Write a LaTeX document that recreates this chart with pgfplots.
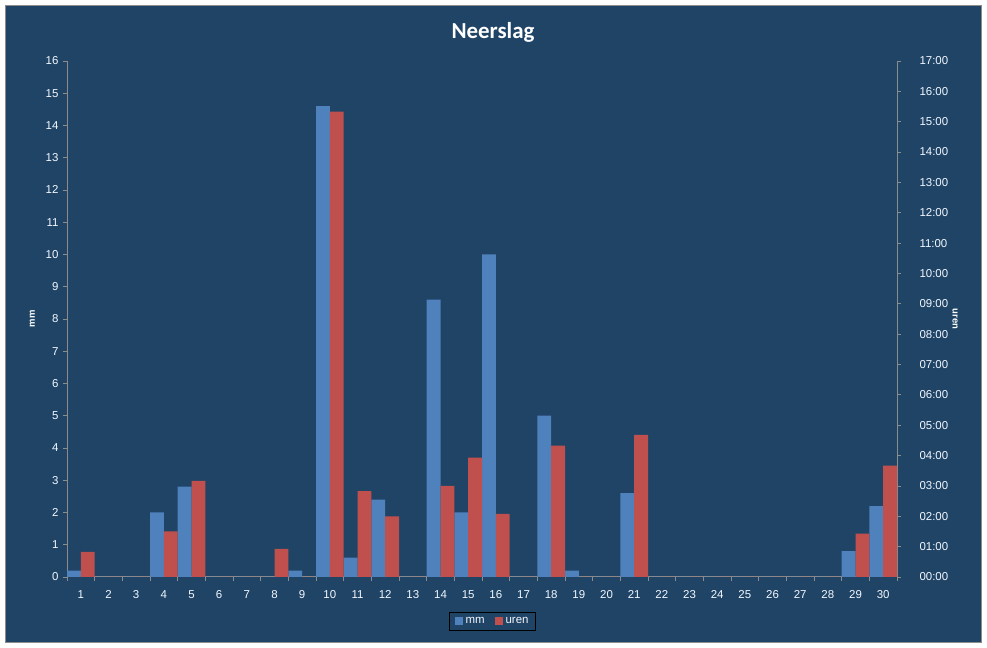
\documentclass[border=0pt]{standalone}
\usepackage{pgfplots}
\pgfplotsset{compat=1.18}
\usepackage{fontspec}
\setmainfont{Liberation Sans}
\newfontfamily\titlefont{Carlito}
\definecolor{bg}{HTML}{1F4466}
\definecolor{mmblue}{HTML}{4F81BD}
\definecolor{urenred}{HTML}{C0504D}
\definecolor{axgray}{HTML}{8C8C8C}
\definecolor{txt}{HTML}{F4F8FF}
\begin{document}
\begin{tikzpicture}[x=1bp,y=1bp]
\useasboundingbox (0,0) rectangle (987,648);
\fill[white] (0,0) rectangle (987,648);
\fill[bg] (5.5,5.5) rectangle (981.5,642.5);
\draw[axgray, line width=1bp] (5.5,5.5) rectangle (981.5,642.5);
\node[text=white, font=\titlefont\bfseries\fontsize{23}{27}\selectfont] at (493,616) {Neerslag};
\pgfplotsset{
  common/.style={
    at={(67bp,71bp)}, anchor=south west,
    width=830bp, height=516bp, scale only axis,
    xmin=0.5, xmax=30.5, ymin=0,
    tick align=outside,
    /pgf/number format/assume math mode=true,
    major tick length=4bp, minor tick length=4bp,
    every tick/.style={axgray, line width=0.8bp},
    axis line style={axgray, line width=1bp},
    ticklabel style={text=txt, font=\fontsize{11.5}{13}\selectfont},
    label style={text=white, font=\bfseries\fontsize{9.5}{11}\selectfont},
  }
}
\begin{axis}[common,
  axis y line*=left, axis x line*=bottom,
  ymax=16, ytick={0,...,16},
  xtick={1,...,30},
  major x tick style={draw=none},
  minor xtick={0.5,1.5,...,30.5},
  xticklabel style={yshift=-6bp},
  yticklabel style={xshift=-1bp},
  ylabel={mm},
  ylabel style={at={(rel axis cs:-0.0418,0.5)}, anchor=center},
]
\addplot[ybar, bar width=0.5, bar shift=-0.25, fill=mmblue, draw=none] coordinates {
(1,0.2) (2,0) (3,0) (4,2.0) (5,2.8) (6,0) (7,0) (8,0) (9,0.2) (10,14.6)
(11,0.6) (12,2.4) (13,0) (14,8.6) (15,2.0) (16,10.0) (17,0) (18,5.0) (19,0.2) (20,0)
(21,2.6) (22,0) (23,0) (24,0) (25,0) (26,0) (27,0) (28,0) (29,0.8) (30,2.2)
};
\end{axis}
\begin{axis}[common,
  axis y line*=right, axis x line=none,
  ymax=17, ytick={0,...,17},
  yticklabels={00:00,01:00,02:00,03:00,04:00,05:00,06:00,07:00,08:00,09:00,10:00,11:00,12:00,13:00,14:00,15:00,16:00,17:00},
  yticklabel style={xshift=15bp},
  ylabel={uren},
  ylabel style={at={(rel axis cs:1.07,0.5)}, anchor=center, rotate=180},
  legend columns=2,
  legend style={at={(0.5127,-0.068)}, anchor=north, draw=black, line width=0.8bp,
    fill=bg, text=txt, font=\fontsize{11.5}{13}\selectfont,
    inner xsep=5bp, inner ysep=3bp,
    /tikz/every odd column/.append style={column sep=1bp},
    /tikz/every even column/.append style={column sep=8bp}},
  legend image code/.code={\fill[#1] (0bp,-3.5bp) rectangle (8bp,4.5bp);},
]
\addlegendimage{fill=mmblue, draw=none}
\addlegendentry{mm}
\addplot[ybar, bar width=0.5, bar shift=0.25, fill=urenred, draw=none] coordinates {
(1,0.83) (2,0) (3,0) (4,1.5) (5,3.17) (6,0) (7,0) (8,0.93) (9,0) (10,15.33)
(11,2.83) (12,2.0) (13,0) (14,3.0) (15,3.93) (16,2.08) (17,0) (18,4.33) (19,0) (20,0)
(21,4.68) (22,0) (23,0) (24,0) (25,0) (26,0) (27,0) (28,0) (29,1.43) (30,3.67)
};
\addlegendentry{uren}
\end{axis}
\end{tikzpicture}
\end{document}
